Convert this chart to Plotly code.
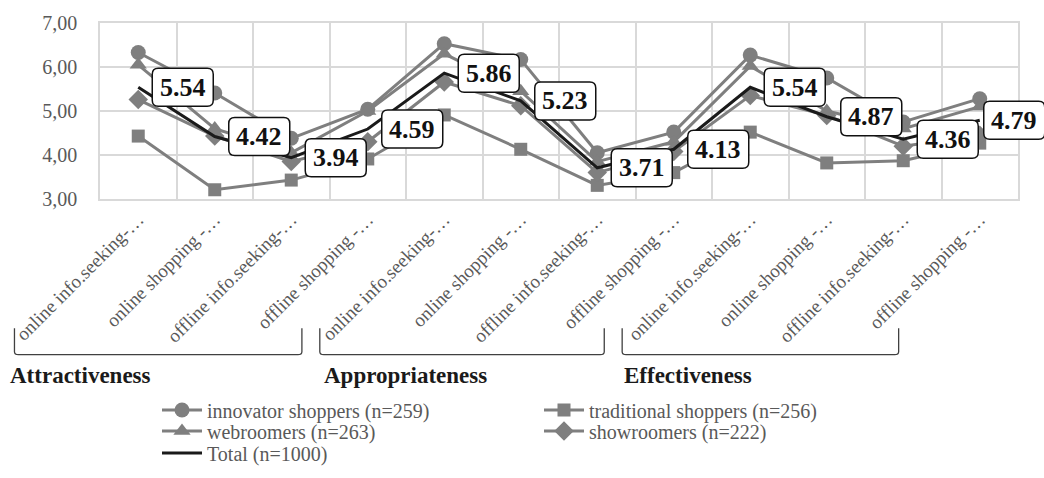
import plotly.graph_objects as go

# Perception scores (1-7 scale) per channel activity and segment
categories = [
    "online info.seeking-…", "online shopping -…", "offline info.seeking-…", "offline shopping -…",
    "online info.seeking-…", "online shopping -…", "offline info.seeking-…", "offline shopping -…",
    "online info.seeking-…", "online shopping -…", "offline info.seeking-…", "offline shopping -…",
]
innovator = [6.33, 5.41, 4.38, 5.04, 6.53, 6.17, 4.05, 4.52, 6.27, 5.75, 4.75, 5.28]
traditional = [4.43, 3.21, 3.43, 3.91, 4.91, 4.13, 3.31, 3.60, 4.52, 3.82, 3.87, 4.27]
webroomers = [6.05, 4.60, 4.05, 5.00, 6.30, 5.45, 3.85, 4.30, 6.02, 5.00, 4.60, 5.10]
showroomers = [5.26, 4.43, 3.85, 4.30, 5.66, 5.12, 3.60, 4.08, 5.35, 4.90, 4.20, 4.45]
total = [5.54, 4.42, 3.94, 4.59, 5.86, 5.23, 3.71, 4.13, 5.54, 4.87, 4.36, 4.79]

groups = ["Attractiveness", "Appropriateness", "Effectiveness"]

x = list(range(len(categories)))
X_RANGE = [-0.5, len(categories) - 0.5]

GRAY = "#7f7f7f"
TEXT_GRAY = "#595959"
GRID = "#d9d9d9"
SERIF = "Liberation Serif"

fig = go.Figure()

series = [
    ("innovator shoppers (n=259)", innovator, "circle", 15, "legend"),
    ("traditional shoppers (n=256)", traditional, "square", 13, "legend"),
    ("webroomers (n=263)", webroomers, "triangle-up", 15, "legend2"),
    ("showroomers (n=222)", showroomers, "diamond", 15, "legend2"),
]
for name, vals, sym, size, lg in series:
    fig.add_trace(go.Scatter(
        x=x, y=vals, name=name, mode="lines+markers",
        line=dict(color=GRAY, width=3),
        marker=dict(symbol=sym, size=size, color=GRAY),
        legend=lg,
    ))

fig.add_trace(go.Scatter(
    x=x, y=total, name="Total (n=1000)", mode="lines",
    line=dict(color="#1a1a1a", width=3), legend="legend3",
))


def rounded_box(x0, w, h, r):
    """Rounded rectangle path in pixels, relative to an anchor point."""
    x1, y0, y1 = x0 + w, -h / 2, h / 2
    return (
        f"M {x0 + r},{y0} L {x1 - r},{y0} Q {x1},{y0} {x1},{y0 + r} "
        f"L {x1},{y1 - r} Q {x1},{y1} {x1 - r},{y1} "
        f"L {x0 + r},{y1} Q {x0},{y1} {x0},{y1 - r} "
        f"L {x0},{y0 + r} Q {x0},{y0} {x0 + r},{y0} Z"
    )


def x_to_paper(xv):
    """Category position as a fraction of the x axis (lets boxes overhang the plot)."""
    return (xv - X_RANGE[0]) / (X_RANGE[1] - X_RANGE[0])


# Value boxes for the Total line (the last one hugs its point)
BOX_W, BOX_H = 61, 38
for xi, v in zip(x, total):
    off = 14 if xi < len(x) - 1 else 4
    fig.add_shape(
        type="path", xref="paper", yref="y",
        xsizemode="pixel", ysizemode="pixel", xanchor=x_to_paper(xi), yanchor=v,
        path=rounded_box(off, BOX_W, BOX_H, 6),
        fillcolor="white", line=dict(color="#111111", width=1.5), layer="above",
    )
    fig.add_annotation(
        x=xi, y=v, text=f"<b>{v:.2f}</b>", showarrow=False,
        xanchor="center", yanchor="middle", xshift=off + BOX_W / 2,
        font=dict(family=SERIF, size=26, color="#111111"),
    )

# Plot area pixel geometry used to place the group brackets
L, R, T, B = 95, 26, 18, 279
W, H = 1044, 478
pw, ph = W - L - R, H - T - B


def px(xp):
    return (xp - L) / pw


def py(yp):
    return (H - B - yp) / ph


brackets = [(9, 298), (316, 602), (620, 898)]
label_x = [3, 318, 620]
top, bot = 332, 359
for (x0, x1), gname, lx in zip(brackets, groups, label_x):
    path = (
        f"M {px(x0)},{py(top)} L {px(x0)},{py(bot - 3)} "
        f"Q {px(x0)},{py(bot)} {px(x0 + 4)},{py(bot)} "
        f"L {px(x1 - 4)},{py(bot)} "
        f"Q {px(x1)},{py(bot)} {px(x1)},{py(bot - 3)} L {px(x1)},{py(top)}"
    )
    fig.add_shape(type="path", path=path, xref="paper", yref="paper",
                  line=dict(color="#404040", width=1.3))
    fig.add_annotation(
        x=px(lx), y=py(381), xref="paper", yref="paper", text=f"<b>{gname}</b>",
        showarrow=False, xanchor="left", yanchor="middle",
        font=dict(family=SERIF, size=23, color="#1a1a1a"),
    )

legend_common = dict(
    orientation="h", xanchor="left", yanchor="middle",
    xref="container", yref="container",
    font=dict(family=SERIF, size=20, color=TEXT_GRAY),
    entrywidth=327, bgcolor="rgba(0,0,0,0)", itemwidth=40,
)

fig.update_layout(
    width=W, height=H,
    margin=dict(l=L, r=R, t=T, b=B),
    paper_bgcolor="white", plot_bgcolor="white",
    showlegend=True,
    legend=dict(x=157 / W, y=1 - 410 / H, **legend_common),
    legend2=dict(x=157 / W, y=1 - 431 / H, **legend_common),
    legend3=dict(x=157 / W, y=1 - 453 / H, **legend_common),
    xaxis=dict(
        range=X_RANGE,
        tickmode="array", tickvals=x, ticktext=categories,
        tickangle=-45, showgrid=False, zeroline=False, ticks="",
        tickfont=dict(family=SERIF, size=19, color=TEXT_GRAY),
        showline=True, linecolor=GRID, linewidth=1.5, mirror=True,
        minor=dict(tickmode="linear", tick0=-0.5, dtick=1, showgrid=True,
                   gridcolor=GRID, gridwidth=1.5, ticks=""),
    ),
    yaxis=dict(
        range=[3, 7], dtick=1, tickformat=".2f",
        showgrid=True, gridcolor=GRID, gridwidth=1.5, zeroline=False,
        tickfont=dict(family=SERIF, size=20, color=TEXT_GRAY),
        showline=True, linecolor=GRID, linewidth=1.5, mirror=True,
        ticklabelstandoff=17,
    ),
    separators=",.",
)

fig.write_html("out.html")
